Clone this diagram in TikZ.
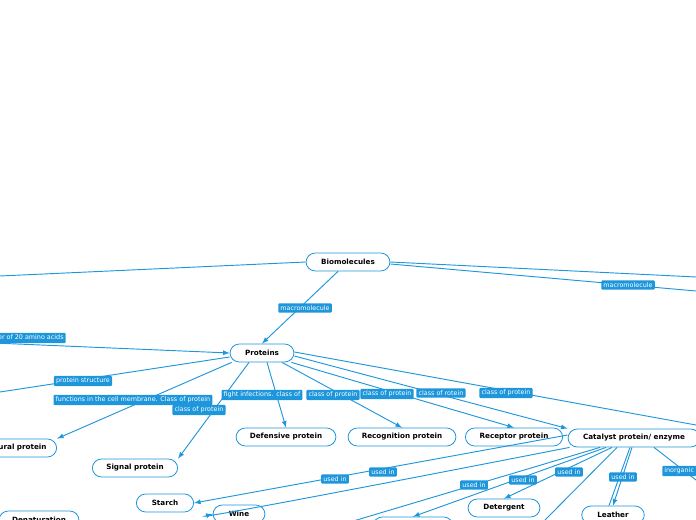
\documentclass[tikz,border=0pt]{standalone}
\usepackage{fontspec}
\setmainfont{DejaVu Sans}
\begin{document}
\begin{tikzpicture}[x=0.75pt,y=-0.75pt,
  concept/.style={draw=cblue,line width=0.6pt,rounded corners=7pt,fill=white,minimum height=13.5pt,font=\fontsize{5.4}{6}\selectfont\bfseries,inner sep=1pt},
  lab/.style={fill=cblue,text=white,font=\fontsize{4.8}{5.5}\selectfont,inner sep=1.6pt,rounded corners=0.8pt},
  ln/.style={draw=cblue,line width=0.7pt},
  ar/.style={ln,-latex}]
\definecolor{cblue}{HTML}{1E96DC}
\useasboundingbox (0,0) rectangle (696,520);
\begin{scope}
\clip (0,0) rectangle (696,520);
% nodes
\node[concept,minimum width=63pt] (bio) at (348,262) {Biomolecules};
\node[concept,minimum width=48pt] (pro) at (262,353) {Proteins};
\node[concept,minimum width=75pt] (def) at (286,437) {Defensive protein};
\node[concept,minimum width=81pt] (rec) at (402,437) {Recognition protein};
\node[concept,minimum width=73pt] (recp) at (514,437) {Receptor protein};
\node[concept,minimum width=99pt] (cat) at (634,438) {Catalyst protein/ enzyme};
\node[concept,minimum width=70pt] (str) at (10,448) {Structural protein};
\node[concept,minimum width=64pt] (sig) at (135,468) {Signal protein};
\node[concept,minimum width=43pt] (sta) at (165,503) {Starch};
\node[concept,minimum width=39pt] (win) at (239,514) {Wine};
\node[concept,minimum width=60pt] (den) at (39,520) {Denaturation};
\node[concept,minimum width=54pt] (det) at (504,508) {Detergent};
\node[concept,minimum width=47pt] (lea) at (613,515) {Leather};
\node[concept,minimum width=60pt,minimum height=13.5pt] (blank) at (413,526) {};
\node[concept,minimum width=40pt] (rgt) at (725,505) {};
% coordinates
\coordinate (L1) at (0,276);
\coordinate (R1) at (696,277);
\coordinate (R2) at (696,291);
\coordinate (L2) at (-30,342);
\coordinate (L3) at (0,392);
\coordinate (R3) at (696,425);
\coordinate (R4) at (696,480);
\coordinate (B1) at (545,520);
\coordinate (B2) at (350,522);
% edges
\draw[ln] (bio.west) -- (L1);
\draw[ln] (bio.east) -- (R1);
\draw[ln] ([yshift=-1.5pt]bio.east) -- (R2);
\draw[ar] (bio.south) ++(-10,0) -- (pro.north);
\draw[ar] (L2) -- (pro.west);
\draw[ln] (pro.west) ++(0,4) -- (L3);
\draw[ar] (pro.south west) ++(2,0) -- (str.north east);
\draw[ar] (pro.south) ++(-13,0) -- (sig.north east);
\draw[ar] (pro.south) ++(5,0) -- (def.north);
\draw[ar] (pro.south) ++(20,0) -- (rec.north);
\draw[ar] (pro.south east) ++(-3,0) -- (recp.north);
\draw[ar] (pro.east) ++(0,3) -- (cat.north west);
\draw[ln] (pro.east) ++(0,-1) -- (R3);
\draw[ar] (cat.west) ++(0,-3) -- (sta.east);
\draw[ar] (cat.south west) ++(2,0) .. controls (300,500) and (190,520) .. (win.west);
\draw[ar] (cat.south) ++(-28,0) -- (blank.north);
\draw[ln] (cat.south) ++(-34,0) -- (B2);
\draw[ar] (cat.south) ++(-22,0) -- (det.north);
\draw[ln] (cat.south) ++(-17,0) -- (B1);
\draw[ar] (cat.south) ++(-2,0) -- (lea.north);
\draw[ln] (cat.south) ++(-4,0) -- ([xshift=-3pt]lea.north);
\draw[ln] (cat.south) ++(20,0) -- (R4);
\end{scope}
% labels
\node[lab] at (305,308) {macromolecule};
\node[lab] at (628,285) {macromolecule};
\node[lab,anchor=east] at (66,338) {polymer of 20 amino acids};
\node[lab] at (83,381) {protein structure};
\node[lab] at (133,400) {functions in the cell membrane. Class of protein};
\node[lab] at (199,410) {class of protein};
\node[lab] at (262,395) {fight infections. class of};
\node[lab] at (333,395) {class of protein};
\node[lab] at (387,394) {class of protein};
\node[lab] at (441,393) {class of rotein};
\node[lab] at (506,393) {class of protein};
\node[lab] at (335,479) {used in};
\node[lab] at (383,472) {used in};
\node[lab] at (474,485) {used in};
\node[lab] at (523,480) {used in};
\node[lab] at (569,472) {used in};
\node[lab] at (623,477) {used in};
\node[lab,anchor=west] at (662,471) {inorganic};
\end{tikzpicture}
\end{document}
